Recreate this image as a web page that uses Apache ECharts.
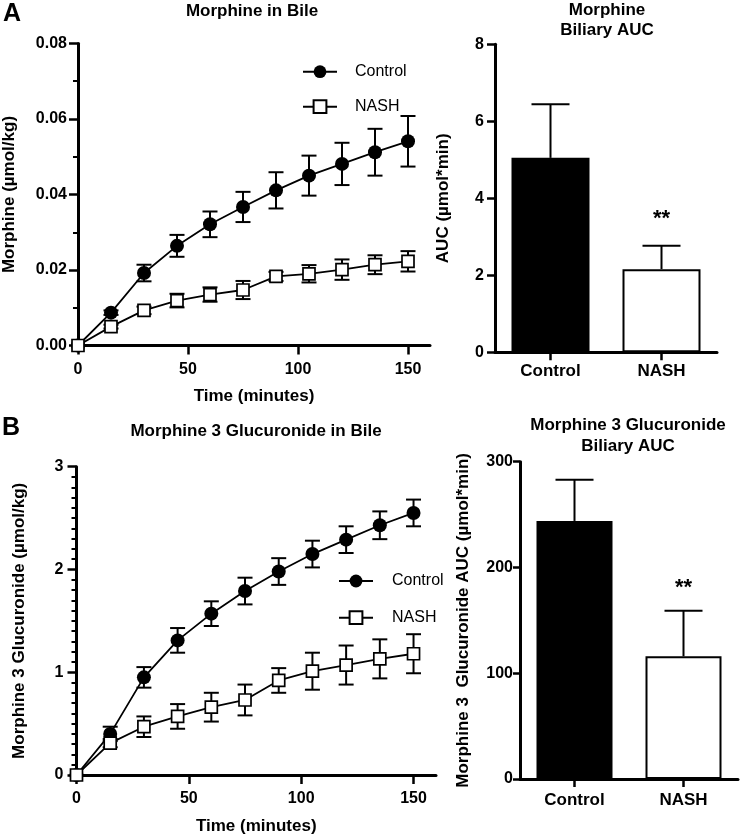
<!DOCTYPE html>
<html><head><meta charset="utf-8">
<script src="https://cdn.jsdelivr.net/npm/echarts@6/dist/echarts.min.js"></script>
<style>html,body{margin:0;padding:0;background:#fff}#c{width:740px;height:838px}</style>
</head><body><div id="c"></div>
<script>
// ---- data ----
const times = [0, 15, 30, 45, 60, 75, 90, 105, 120, 135, 150];
const timeTicks = [0, 50, 100, 150];
const seriesNames = ['Control', 'NASH'];

const morControl = [0, 0.0087, 0.0192, 0.0264, 0.0321, 0.0367, 0.0411, 0.0450, 0.0481, 0.0512, 0.0541];
const morControlErr = [0, 0.0006, 0.0022, 0.0029, 0.0034, 0.0040, 0.0048, 0.0053, 0.0056, 0.0062, 0.0067];
const morNash = [0, 0.0050, 0.0093, 0.0119, 0.0135, 0.0147, 0.0183, 0.0190, 0.0201, 0.0214, 0.0223];
const morNashErr = [0, 0.0005, 0.0010, 0.0018, 0.0019, 0.0024, 0.0012, 0.0023, 0.0027, 0.0025, 0.0027];

const m3gControl = [0, 0.40, 0.95, 1.31, 1.57, 1.79, 1.98, 2.15, 2.29, 2.43, 2.55];
const m3gControlErr = [0, 0.07, 0.10, 0.12, 0.12, 0.13, 0.13, 0.13, 0.13, 0.135, 0.13];
const m3gNash = [0, 0.31, 0.47, 0.57, 0.66, 0.73, 0.92, 1.01, 1.07, 1.13, 1.18];
const m3gNashErr = [0, 0.04, 0.10, 0.12, 0.14, 0.15, 0.12, 0.18, 0.19, 0.19, 0.19];

const aucGroups = ['Control', 'NASH'];
const morAuc = [5.05, 2.16];
const morAucErr = [1.39, 0.61];
const morAucSig = ['', '**'];
const m3gAuc = [244, 116];
const m3gAucErr = [39, 43];
const m3gAucSig = ['', '**'];

// ---- helpers ----
const FONT = '"Liberation Sans", Arial, Helvetica, sans-serif';
const BLACK = '#000';

function pairs(xs, ys, es) { return xs.map((x, i) => es ? [x, ys[i], es[i]] : [x, ys[i]]); }

function symErr(capHalf) {
  return function (params, api) {
    const x = api.value(0), y = api.value(1), e = api.value(2);
    if (!e) return { type: 'group', children: [] };
    const t = api.coord([x, y + e]), b = api.coord([x, y - e]);
    const st = { stroke: BLACK, lineWidth: 2 };
    return { type: 'group', children: [
      { type: 'line', shape: { x1: t[0], y1: t[1], x2: b[0], y2: b[1] }, style: st },
      { type: 'line', shape: { x1: t[0] - capHalf, y1: t[1], x2: t[0] + capHalf, y2: t[1] }, style: st },
      { type: 'line', shape: { x1: b[0] - capHalf, y1: b[1], x2: b[0] + capHalf, y2: b[1] }, style: st }
    ]};
  };
}

function upErr(capHalf, sig, sigOffset) {
  return function (params, api) {
    const x = api.value(0), y = api.value(1), e = api.value(2);
    const t = api.coord([x, y + e]), b = api.coord([x, y]);
    const st = { stroke: BLACK, lineWidth: 2 };
    const ch = [
      { type: 'line', shape: { x1: t[0], y1: t[1], x2: b[0], y2: b[1] }, style: st },
      { type: 'line', shape: { x1: t[0] - capHalf, y1: t[1], x2: t[0] + capHalf, y2: t[1] }, style: st }
    ];
    const s = sig[params.dataIndex];
    if (s) ch.push({ type: 'text', x: t[0], y: t[1] - sigOffset,
      style: { text: s, fill: BLACK, font: 'bold 22px ' + FONT, align: 'center', verticalAlign: 'middle' } });
    return { type: 'group', children: ch };
  };
}

const axisLineStyle = { show: true, lineStyle: { color: BLACK, width: 3 } };
const tickLbl = (m) => ({ color: BLACK, fontSize: 16, fontWeight: 'bold', fontFamily: FONT, margin: m });
const nameStyle = { color: BLACK, fontSize: 17, fontWeight: 'bold', fontFamily: FONT };

const timeX = (gi, nameGap) => ({
  type: 'value', gridIndex: gi, min: 0, max: 160,
  name: 'Time (minutes)', nameLocation: 'middle', nameGap: nameGap, nameTextStyle: nameStyle,
  axisLine: axisLineStyle, splitLine: { show: false },
  axisTick: { show: true, length: 9, lineStyle: { width: 2.5, color: BLACK }, customValues: timeTicks },
  axisLabel: Object.assign(tickLbl(16), { customValues: timeTicks })
});

const catX = (gi, m) => ({
  type: 'category', gridIndex: gi, data: aucGroups,
  axisLine: axisLineStyle, splitLine: { show: false },
  axisTick: { show: true, alignWithLabel: true, length: 8, lineStyle: { width: 2.5, color: BLACK } },
  axisLabel: { color: BLACK, fontSize: 17, fontWeight: 'bold', fontFamily: FONT, margin: m }
});

const lineSeries = (name, data, xi, yi, isCtrl) => ({
  type: 'line', name: name, xAxisIndex: xi, yAxisIndex: yi, data: data, z: 3,
  symbol: isCtrl ? 'circle' : 'rect', symbolSize: isCtrl ? 14 : 12,
  lineStyle: { color: BLACK, width: 1.8 },
  itemStyle: isCtrl ? { color: BLACK } : { color: '#fff', borderColor: BLACK, borderWidth: 1.7 },
  emphasis: { disabled: true }, animation: false
});

const errSeries = (data, xi, yi, renderer) => ({
  type: 'custom', xAxisIndex: xi, yAxisIndex: yi, data: data, z: 2,
  renderItem: renderer, animation: false, silent: true
});

const legendCfg = (left, top, gap, pad) => ({
  data: seriesNames, orient: 'vertical', left: left, top: top,
  itemWidth: 34, itemHeight: 16, itemGap: gap, selectedMode: false,
  textStyle: { color: BLACK, fontSize: 16, fontFamily: FONT, padding: [0, 0, 0, pad] }
});

const titleText = (x, y, text, size) => ({
  type: 'text', x: x, y: y,
  style: { text: text, fill: BLACK, font: 'bold ' + (size || 17) + 'px ' + FONT, align: 'center', verticalAlign: 'middle' }
});

const option = {
  backgroundColor: '#fff',
  animation: false,
  textStyle: { fontFamily: FONT },
  grid: [
    { left: 78, top: 43.5, width: 352, height: 302 },
    { left: 495, top: 44.3, width: 222, height: 308 },
    { left: 76.5, top: 466.7, width: 359.5, height: 308.3 },
    { left: 520, top: 461.7, width: 218, height: 317.3 }
  ],
  xAxis: [ timeX(0, 42), catX(1, 11), timeX(2, 43), catX(3, 13) ],
  yAxis: [
    { type: 'value', gridIndex: 0, min: 0, max: 0.08, interval: 0.02,
      name: 'Morphine (\u00b5mol/kg)', nameLocation: 'middle', nameGap: 60, nameTextStyle: nameStyle,
      axisLine: axisLineStyle, splitLine: { show: false },
      axisTick: { show: true, length: 9, lineStyle: { width: 2.5, color: BLACK } },
      minorTick: { show: true, splitNumber: 2, length: 5, lineStyle: { width: 2, color: BLACK } },
      axisLabel: Object.assign(tickLbl(11), { formatter: v => v.toFixed(2) }) },
    { type: 'value', gridIndex: 1, min: 0, max: 8, interval: 2,
      name: 'AUC (\u00b5mol*min)', nameLocation: 'middle', nameGap: 43, nameTextStyle: nameStyle,
      axisLine: axisLineStyle, splitLine: { show: false },
      axisTick: { show: true, length: 8, lineStyle: { width: 2.5, color: BLACK } },
      axisLabel: tickLbl(11) },
    { type: 'value', gridIndex: 2, min: 0, max: 3, interval: 1,
      name: 'Morphine 3 Glucuronide (\u00b5mol/kg)', nameLocation: 'middle', nameGap: 49, nameTextStyle: nameStyle,
      axisLine: axisLineStyle, splitLine: { show: false },
      axisTick: { show: true, length: 9, lineStyle: { width: 2.5, color: BLACK } },
      minorTick: { show: true, splitNumber: 10, length: 5, lineStyle: { width: 2, color: BLACK } },
      axisLabel: tickLbl(13) },
    { type: 'value', gridIndex: 3, min: 0, max: 300, interval: 100,
      name: 'Morphine 3  Glucuronide AUC (\u00b5mol*min)', nameLocation: 'middle', nameGap: 48, nameTextStyle: nameStyle,
      axisLine: axisLineStyle, splitLine: { show: false },
      axisTick: { show: true, length: 7, lineStyle: { width: 2.5, color: BLACK } },
      axisLabel: tickLbl(7) }
  ],
  legend: [ legendCfg(297, 58.7, 19, 13), legendCfg(333, 568, 20.7, 14) ],
  series: [
    errSeries(pairs(times, morControl, morControlErr), 0, 0, symErr(7.5)),
    errSeries(pairs(times, morNash, morNashErr), 0, 0, symErr(7.5)),
    lineSeries('Control', pairs(times, morControl), 0, 0, true),
    lineSeries('NASH', pairs(times, morNash), 0, 0, false),

    { type: 'bar', xAxisIndex: 1, yAxisIndex: 1, barWidth: 78, z: 2, animation: false,
      data: morAuc.map((v, i) => ({ value: v, itemStyle: i === 0
        ? { color: BLACK, borderColor: BLACK, borderWidth: 2 }
        : { color: '#fff', borderColor: BLACK, borderWidth: 2 } })),
      emphasis: { disabled: true } },
    errSeries(pairs(aucGroups, morAuc, morAucErr), 1, 1, upErr(19, morAucSig, 27)),

    errSeries(pairs(times, m3gControl, m3gControlErr), 2, 2, symErr(7.5)),
    errSeries(pairs(times, m3gNash, m3gNashErr), 2, 2, symErr(7.5)),
    lineSeries('Control', pairs(times, m3gControl), 2, 2, true),
    lineSeries('NASH', pairs(times, m3gNash), 2, 2, false),

    { type: 'bar', xAxisIndex: 3, yAxisIndex: 3, barWidth: 76, z: 2, animation: false,
      data: m3gAuc.map((v, i) => ({ value: v, itemStyle: i === 0
        ? { color: BLACK, borderColor: BLACK, borderWidth: 2 }
        : { color: '#fff', borderColor: BLACK, borderWidth: 2 } })),
      emphasis: { disabled: true } },
    errSeries(pairs(aucGroups, m3gAuc, m3gAucErr), 3, 3, upErr(19, m3gAucSig, 23))
  ],
  graphic: [
    { type: 'text', x: 3, y: 2, style: { text: 'A', fill: BLACK, font: 'bold 25px ' + FONT } },
    { type: 'text', x: 2, y: 416, style: { text: 'B', fill: BLACK, font: 'bold 25px ' + FONT } },
    titleText(252, 11, 'Morphine in Bile'),
    titleText(607, 10, 'Morphine'),
    titleText(607, 30.5, 'Biliary AUC'),
    titleText(256, 431.5, 'Morphine 3 Glucuronide in Bile'),
    titleText(628, 425, 'Morphine 3 Glucuronide'),
    titleText(628, 446.5, 'Biliary AUC')
  ]
};

const chart = echarts.init(document.getElementById('c'), null, { renderer: 'canvas' });
chart.setOption(option);
</script>
</body></html>
